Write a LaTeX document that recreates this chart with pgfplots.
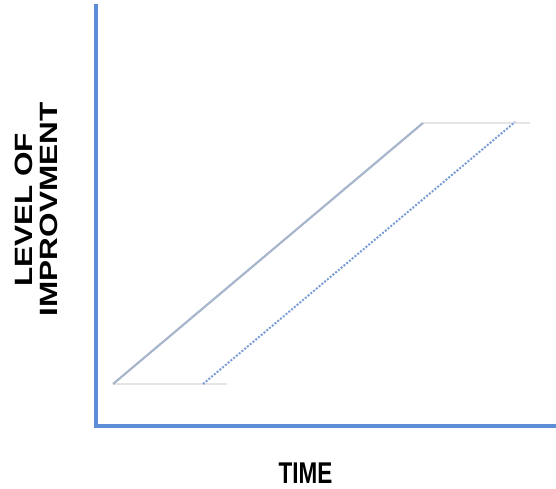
\documentclass[border=0pt]{standalone}
\usepackage{fontspec}
\setmainfont{Liberation Sans}
\usepackage{pgfplots}
\pgfplotsset{compat=1.18}
\usepackage{graphicx}

\definecolor{axisblue}{HTML}{5B8ED6}
\definecolor{solidline}{HTML}{A8B6CC}
\definecolor{dotline}{HTML}{7A9CD6}
\definecolor{faint}{HTML}{E6E6E6}

\begin{document}
\begin{tikzpicture}[x=1pt,y=1pt]
\useasboundingbox (0,0) rectangle (556,489);
\begin{axis}[
  at={(96pt,63pt)}, anchor=south west,
  scale only axis,
  width=460pt, height=420pt,
  xmin=96, xmax=556,
  ymin=0, ymax=420,
  axis x line=bottom, axis y line=left,
  axis line style={-, draw=axisblue, line width=3.2pt, line cap=rect},
  xtick=\empty, ytick=\empty,
  clip=false,
]
% faint bottom and top edges
\addplot[faint, line width=1.4pt] coordinates {(113,42) (227,42)};
\addplot[faint, line width=1.4pt] coordinates {(423,303) (530,303)};
% solid rise
\addplot[solidline, line width=2.2pt] coordinates {(113,42) (423,303)};
% dotted rise
\addplot[dotline, line width=2pt, dash pattern=on 2pt off 1.6pt] coordinates {(203,42) (515,304)};
\end{axis}
\node[font=\bfseries\fontsize{30}{30}\selectfont, anchor=center] at (305.5,16)
  {\scalebox{0.75}[1]{TIME}};
\node[font=\bfseries\fontsize{25}{25}\selectfont, rotate=90, anchor=center] at (23.5,279)
  {\scalebox{1.26}[1]{LEVEL OF}};
\node[font=\bfseries\fontsize{25}{25}\selectfont, rotate=90, anchor=center] at (49,279.5)
  {\scalebox{1.26}[1]{IMPROVMENT}};
\end{tikzpicture}
\end{document}
